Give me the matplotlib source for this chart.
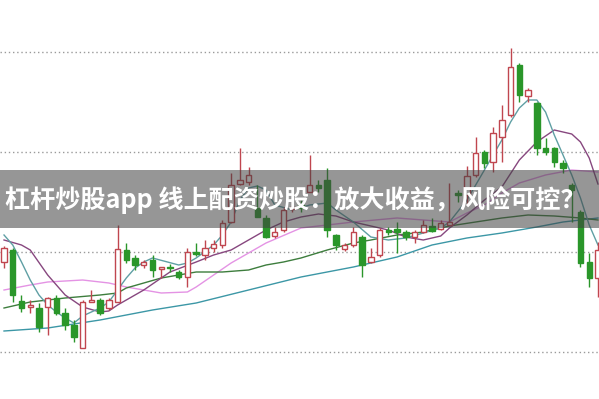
import matplotlib
matplotlib.use("Agg")
import matplotlib.pyplot as plt
from matplotlib.patches import Rectangle

plt.rcParams['font.family'] = ['Noto Sans CJK SC', 'DejaVu Sans']

title = '杠杆炒股app 线上配资炒股：放大收益，风险可控？'

# daily candles (open, high, low, close)
opens = [10.90, 11.02, 10.51, 10.45, 10.44, 10.45, 10.54, 10.39, 10.27, 10.04,
         10.50, 10.52, 10.44, 10.50, 11.02, 10.94, 10.87, 10.92, 10.83, 10.85,
         10.80, 10.75, 11.00, 10.97, 11.04, 11.07, 11.30, 11.68, 11.70, 11.44,
         11.34, 11.16, 11.22, 11.43, 11.47, 11.60, 11.67, 11.72, 11.17, 11.03,
         11.07, 11.15, 10.90, 10.97, 11.22, 11.23, 11.20, 11.15, 11.20, 11.26,
         11.23, 11.27, 11.59, 11.57, 11.77, 12.00, 11.90, 12.15, 12.37, 12.87,
         12.56, 12.49, 12.04, 12.04, 11.89, 11.67, 11.40, 10.90, 10.74]
highs = [11.06, 11.04, 10.57, 10.52, 10.49, 10.55, 10.57, 10.44, 10.32, 10.52,
         10.62, 10.54, 10.54, 11.27, 11.09, 10.97, 10.92, 10.97, 10.85, 10.88,
         10.82, 11.04, 11.09, 11.12, 11.12, 11.32, 11.79, 12.04, 11.85, 11.67,
         11.37, 11.25, 11.45, 11.52, 11.52, 11.97, 11.72, 11.84, 11.18, 11.09,
         11.25, 11.17, 11.04, 11.24, 11.25, 11.30, 11.22, 11.22, 11.32, 11.34,
         11.32, 11.69, 11.62, 11.86, 12.15, 12.02, 12.25, 12.47, 13.04, 12.89,
         12.64, 12.50, 12.14, 12.05, 11.92, 11.69, 11.42, 10.99, 11.10]
lows = [10.84, 10.50, 10.40, 10.39, 10.20, 10.17, 10.37, 10.22, 10.10, 10.04,
        10.50, 10.37, 10.42, 10.50, 10.89, 10.82, 10.84, 10.75, 10.74, 10.80,
        10.73, 10.65, 10.96, 10.92, 11.00, 11.04, 11.29, 11.67, 11.67, 11.35,
        11.14, 11.14, 11.20, 11.40, 11.40, 11.60, 11.60, 11.15, 11.02, 11.01,
        11.05, 10.75, 10.89, 10.95, 11.17, 10.99, 11.12, 11.09, 11.19, 11.20,
        11.22, 11.27, 11.50, 11.47, 11.75, 11.84, 11.80, 11.90, 12.35, 12.50,
        12.50, 11.97, 11.97, 11.85, 11.79, 11.30, 10.85, 10.65, 10.55]
closes = [11.04, 10.57, 10.44, 10.47, 10.25, 10.54, 10.39, 10.27, 10.15, 10.50,
          10.52, 10.39, 10.52, 11.03, 10.92, 10.87, 10.90, 10.82, 10.85, 10.84,
          10.75, 11.00, 10.98, 11.04, 11.08, 11.29, 11.67, 11.72, 11.77, 11.35,
          11.15, 11.20, 11.42, 11.45, 11.44, 11.67, 11.64, 11.22, 11.07, 11.07,
          11.20, 10.87, 10.95, 11.22, 11.20, 11.20, 11.15, 11.20, 11.27, 11.21,
          11.29, 11.30, 11.57, 11.76, 11.99, 11.89, 12.19, 12.32, 12.85, 12.57,
          12.62, 12.04, 12.00, 11.90, 11.84, 11.62, 10.89, 10.74, 11.02]

# moving average lines (day index, price)
ma5_x = [0, 1, 2, 3, 4, 5, 6, 7, 8, 9, 10, 11, 12, 13, 14, 15, 16, 17, 20, 21,
         22, 24, 25, 26, 27, 28, 29, 30, 31, 33, 35, 37, 38, 40, 42, 44, 46, 48,
         50, 51, 53, 54, 55, 56, 57, 58, 59, 60, 61, 62, 63, 64, 65, 66, 67, 68]
ma5_y = [11.17, 11.07, 10.90, 10.72, 10.57, 10.47, 10.40, 10.34, 10.29, 10.36,
         10.40, 10.44, 10.50, 10.62, 10.74, 10.84, 10.90, 10.94, 10.87, 10.89,
         10.94, 11.07, 11.17, 11.30, 11.52, 11.64, 11.66, 11.62, 11.47, 11.42,
         11.47, 11.49, 11.42, 11.30, 11.15, 11.12, 11.14, 11.19, 11.24, 11.30,
         11.52, 11.67, 11.82, 11.97, 12.12, 12.30, 12.44, 12.52, 12.52, 12.40,
         12.17, 11.97, 11.77, 11.54, 11.27, 11.07]
ma10_x = [0, 2, 3, 5, 7, 9, 11, 12, 13, 14, 16, 19, 22, 24, 26, 28, 30, 32, 34,
          36, 38, 40, 42, 44, 46, 48, 50, 51, 53, 55, 57, 59, 61, 63, 65, 66, 67, 68]
ma10_y = [11.12, 11.07, 11.02, 10.77, 10.57, 10.45, 10.40, 10.41, 10.47, 10.52,
          10.62, 10.80, 10.90, 10.97, 11.02, 11.12, 11.22, 11.30, 11.35, 11.38,
          11.36, 11.30, 11.26, 11.22, 11.15, 11.12, 11.16, 11.24, 11.37, 11.52,
          11.65, 11.92, 12.10, 12.22, 12.18, 12.10, 11.94, 11.68]
ma20_x = [0, 3, 7, 11, 13, 14, 16, 18, 20, 22, 25, 28, 30, 32, 34, 37, 40, 42,
          45, 48, 51, 54, 57, 60, 63, 66, 68]
ma20_y = [10.44, 10.50, 10.54, 10.57, 10.59, 10.64, 10.69, 10.74, 10.77, 10.80,
          10.80, 10.82, 10.87, 10.90, 10.94, 11.02, 11.09, 11.12, 11.17, 11.20,
          11.26, 11.30, 11.34, 11.37, 11.36, 11.34, 11.32]
ma30_x = [0, 3, 5, 9, 12, 14, 16, 18, 21, 22, 26, 30, 34, 40, 45, 48, 51, 53,
          55, 57, 59, 62, 65, 68]
ma30_y = [10.62, 10.67, 10.70, 10.72, 10.69, 10.65, 10.62, 10.59, 10.60, 10.65,
          10.89, 11.09, 11.24, 11.30, 11.34, 11.32, 11.30, 11.39, 11.47, 11.59,
          11.69, 11.77, 11.82, 11.80]
ma60_x = [0, 5, 11, 17, 22, 28, 34, 40, 45, 49, 53, 57, 61, 64, 68]
ma60_y = [10.21, 10.24, 10.32, 10.42, 10.49, 10.62, 10.75, 10.85, 10.95, 11.07,
          11.14, 11.19, 11.25, 11.30, 11.34]

grid_levels = [10, 11, 12, 13]

up_col = '#c0464f'
down_col = '#2a962a'

fig = plt.figure(figsize=(5.99, 3.99), dpi=100)
ax = fig.add_axes([0, 0, 1, 1])
ax.set_xlim(-0.46, 68.12)
ax.set_ylim(9.53, 13.52)
ax.axis('off')

for g in grid_levels:
    ax.axhline(g, color='#9a9a9a', lw=1, ls=(0, (1, 2)), zorder=1)

# moving averages
ax.plot(ma60_x, ma60_y, color='#3c97a6', lw=1, zorder=2)
ax.plot(ma30_x, ma30_y, color='#e493e4', lw=1, zorder=2)
ax.plot(ma20_x, ma20_y, color='#3d7d3d', lw=1, zorder=2)
ax.plot(ma10_x, ma10_y, color='#87477f', lw=1, zorder=2)
ax.plot(ma5_x, ma5_y, color='#5f9fa4', lw=1, zorder=2)

# candles
w = 0.62
for i in range(len(opens)):
    o, h, l, c = opens[i], highs[i], lows[i], closes[i]
    col = up_col if c >= o else down_col
    ax.vlines(i, l, h, color=col, lw=1, zorder=3)
    bottom = min(o, c)
    height = max(abs(c - o), 0.012)
    if c >= o:
        ax.add_patch(Rectangle((i - w / 2, bottom), w, height, facecolor='white',
                               edgecolor=col, lw=1, zorder=4))
    else:
        ax.add_patch(Rectangle((i - w / 2, bottom), w, height, facecolor=col,
                               edgecolor=col, lw=1, zorder=4))

# title banner over the chart
fig.patches.append(Rectangle((0, 1 - 228 / 399), 1, 58 / 399, transform=fig.transFigure,
                             facecolor='#404040', alpha=0.55, edgecolor='none', zorder=10))
fig.text(5 / 599, 1 - 200 / 399, title, color='white', fontsize=18.1, fontweight='bold',
         ha='left', va='center', zorder=11)

fig.savefig('out.png', dpi=100)
